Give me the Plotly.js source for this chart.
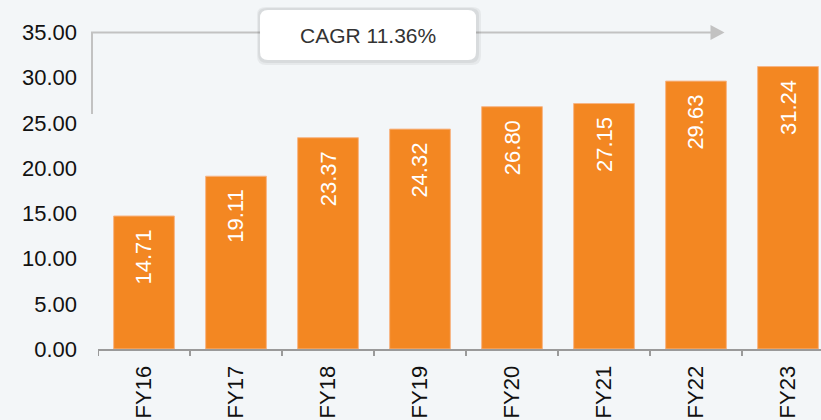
<!DOCTYPE html>
<html>
<head>
<meta charset="utf-8">
<script src="https://cdn.plot.ly/plotly-3.0.1.min.js"></script>
<style>html,body{margin:0;padding:0;background:#f3f6f8;}#chart{width:821px;height:420px;}</style>
</head>
<body>
<div id="chart"></div>
<script>
const categories = ["FY16","FY17","FY18","FY19","FY20","FY21","FY22","FY23"];
const values = [14.71, 19.11, 23.37, 24.32, 26.80, 27.15, 29.63, 31.24];
const valueLabels = ["14.71","19.11","23.37","24.32","26.80","27.15","29.63","31.24"];
const yTicks = [0, 5, 10, 15, 20, 25, 30, 35];
const cagrText = "CAGR 11.36%";

const FONT = "Liberation Sans, Arial, Helvetica, sans-serif";
const W = 821, H = 420, ML = 98, MB = 71;
const plotW = W - ML, plotH = H - MB;

const trace = {
  type: "bar",
  x: categories.map((c, i) => i),
  y: values,
  width: 0.66,
  marker: {color: "#f38722", line: {color: "#f7b585", width: 1}},
  hoverinfo: "skip"
};

const labelAnns = values.map((v, i) => ({
  x: i, y: v, xref: "x", yref: "y",
  text: valueLabels[i], showarrow: false,
  textangle: -90, yanchor: "top", xanchor: "center",
  yshift: -12,
  font: {family: FONT, size: 22, color: "#ffffff"}
}));

const boxX = 2.435, boxY = 34.73;
const lineXPaper = (92 - ML) / plotW;

const shapes = [
  {type: "path", xref: "paper", yref: "y",
   path: "M " + lineXPaper + ",26 L " + lineXPaper + ",35 L " + ((711 - ML) / plotW) + ",35",
   line: {color: "#c2c2c2", width: 2}, layer: "above"},
  {type: "path", xref: "x", yref: "y", xsizemode: "pixel", ysizemode: "pixel",
   xanchor: 6.31, yanchor: 35,
   path: "M -14,7.5 L 0,0 L -14,-7.5 Z",
   fillcolor: "#c2c2c2", line: {width: 0}, layer: "above"},
  {type: "path", xref: "x", yref: "y", xsizemode: "pixel", ysizemode: "pixel",
   xanchor: boxX, yanchor: boxY,
   path: "M -102,-30 L 104,-30 Q 113,-30 113,-21 L 113,21 Q 113,28 104,28 L -102,28 Q -111,28 -111,21 L -111,-21 Q -111,-30 -102,-30 Z",
   fillcolor: "rgba(0,0,0,0.05)", line: {width: 0}, layer: "above"},
  {type: "path", xref: "x", yref: "y", xsizemode: "pixel", ysizemode: "pixel",
   xanchor: boxX, yanchor: boxY,
   path: "M -101,-28 L 102,-28 Q 111,-28 111,-19 L 111,20 Q 111,27 102,27 L -101,27 Q -110,27 -110,20 L -110,-19 Q -110,-28 -101,-28 Z",
   fillcolor: "rgba(0,0,0,0.06)", line: {width: 0}, layer: "above"},
  {type: "path", xref: "x", yref: "y", xsizemode: "pixel", ysizemode: "pixel",
   xanchor: boxX, yanchor: boxY,
   path: "M -100,25 L 100,25 Q 108,25 108,17 L 108,-17 Q 108,-25 100,-25 L -100,-25 Q -108,-25 -108,-17 L -108,17 Q -108,25 -100,25 Z",
   fillcolor: "#ffffff", line: {width: 0}, layer: "above"}
];

const tickShapes = categories.map((c, i) => ({
  type: "line", xref: "x", yref: "paper",
  x0: i - 0.5, x1: i - 0.5, y0: 0, y1: -7 / plotH,
  line: {color: "#9a9a9a", width: 2}, layer: "above"
}));

const annotations = labelAnns.concat([{
  x: boxX, y: boxY, xref: "x", yref: "y", text: cagrText, showarrow: false,
  xanchor: "center", yanchor: "middle",
  font: {family: FONT, size: 21, color: "#333333"}
}]);

const layout = {
  width: W, height: H,
  margin: {l: ML, r: 0, t: 0, b: MB, pad: 0},
  paper_bgcolor: "#f3f6f8", plot_bgcolor: "#f3f6f8",
  showlegend: false,
  xaxis: {
    type: "linear",
    range: [-0.5, -0.5 + plotW / 92],
    tickmode: "array",
    tickvals: categories.map((c, i) => i),
    ticktext: categories,
    tickangle: -90,
    showgrid: false, zeroline: false,
    showline: true, linecolor: "#9a9a9a", linewidth: 2,
    ticks: "",
    tickfont: {family: FONT, size: 22, color: "#111111"},
    ticklabelstandoff: 6
  },
  yaxis: {
    range: [0, plotH / 9.041],
    tickmode: "array", tickvals: yTicks,
    tickformat: ".2f",
    showgrid: false, zeroline: false, showline: false,
    ticks: "",
    tickfont: {family: FONT, size: 22, color: "#111111"},
    ticklabelstandoff: 20
  },
  shapes: shapes.concat(tickShapes),
  annotations: annotations
};

Plotly.newPlot("chart", [trace], layout, {displayModeBar: false, staticPlot: true});
</script>
</body>
</html>
